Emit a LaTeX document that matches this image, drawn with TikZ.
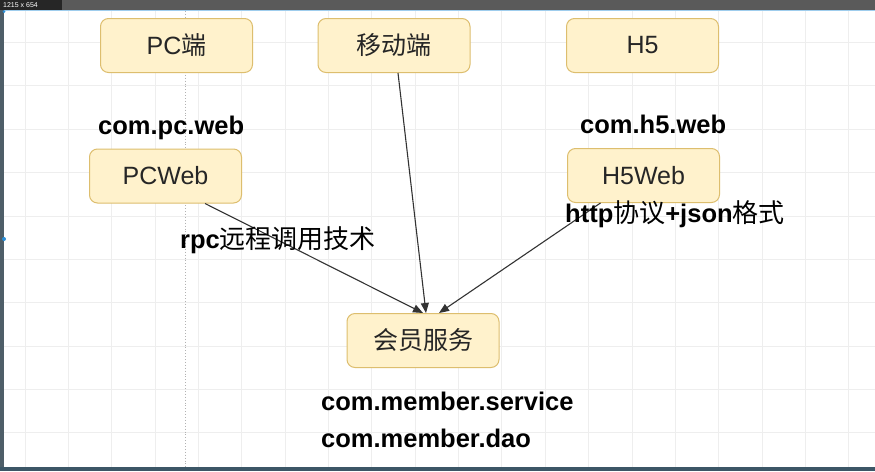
\documentclass[tikz,border=0pt]{standalone}
\usepackage{fontspec}
\setmainfont{Liberation Sans}
\newfontfamily\cjk{Noto Sans CJK SC}
\usetikzlibrary{arrows.meta}
\definecolor{boxfill}{HTML}{FFF2CC}
\definecolor{boxdraw}{HTML}{DDBE6E}
\definecolor{gridc}{HTML}{EEEEEE}
\definecolor{topbar}{HTML}{5A5A5A}
\definecolor{sidebar}{HTML}{4E5E68}
\definecolor{botbar}{HTML}{3C5666}
\definecolor{guideblue}{HTML}{2A8FD8}
\begin{document}
\begin{tikzpicture}[x=1pt,y=-1pt,
  box/.style={draw=boxdraw, fill=boxfill, rounded corners=8pt, line width=1pt,
    minimum width=152pt, minimum height=54pt, inner sep=0pt,
    font=\fontsize{25}{28}\selectfont, text=black!85},
  lbl/.style={font=\fontsize{25.5}{28}\selectfont\bfseries, anchor=base west, inner sep=0pt, text=black},
  link/.style={draw=black!80, line width=1.1pt, -{Triangle[length=10pt,width=8pt]}},
  gridline/.style={draw=gridc, line width=0.8pt}]
\useasboundingbox (0,0) rectangle (875,471);
\fill[white] (0,0) rectangle (875,471);
% grid
\foreach \i in {0,...,19} \draw[gridline] ({25+43.35*\i},11) -- ({25+43.35*\i},467);
\foreach \j in {0,...,9} \draw[gridline] (4,{42.5+43.35*\j}) -- (875,{42.5+43.35*\j});
\draw[black!30, line width=0.9pt, dotted] (185,11) -- (185,467);
% frame of the screenshot
\fill[topbar] (0,0) rectangle (875,10);
\fill[black!85] (0,0) rectangle (62,10);
\node[white, font=\fontsize{7}{7}\selectfont, anchor=base west, inner sep=0pt] (size) at (3,7.5) {1215 x 654};
\draw[guideblue!45, line width=0.8pt] (0,10.5) -- (875,10.5);
\fill[sidebar] (0,10) rectangle (4,471);
\fill[botbar] (0,467) rectangle (875,471);
\fill[guideblue] (4,239) circle (2);
\fill[guideblue] (4,11.5) circle (1.5);
% boxes
\node[box] (pc) at (176.5,45.5) {PC{\cjk 端}};
\node[box] (mobile) at (394,45.5) {{\cjk 移动端}};
\node[box] (h5) at (642.5,45.5) {H5};
\node[box] (pcweb) at (165.5,176) {PCWeb};
\node[box] (h5web) at (643.5,175.5) {H5Web};
\node[box] (member) at (423,340.5) {{\cjk 会员服务}};
% connectors
\draw[link] ([xshift=39.5pt]pcweb.south) -- ([xshift=0pt]member.north);
\draw[link] ([xshift=4pt]mobile.south) -- ([xshift=3pt]member.north);
\draw[link] ([xshift=-43pt]h5web.south) -- ([xshift=16pt]member.north);
% labels
\node[lbl] (pcpkg) at (98,134) {com.pc.web};
\node[lbl] (h5pkg) at (580,133) {com.h5.web};
\node[lbl] (rpc) at (180,248) {rpc{\cjk\mdseries\fontsize{26}{28}\selectfont 远程调用技术}};
\node[lbl] (http) at (565,222) {http{\cjk\mdseries\fontsize{26}{28}\selectfont 协议}+json{\cjk\mdseries\fontsize{26}{28}\selectfont 格式}};
\node[lbl] (svc) at (321,410) {com.member.service};
\node[lbl] (dao) at (321,447) {com.member.dao};
\end{tikzpicture}
\end{document}
